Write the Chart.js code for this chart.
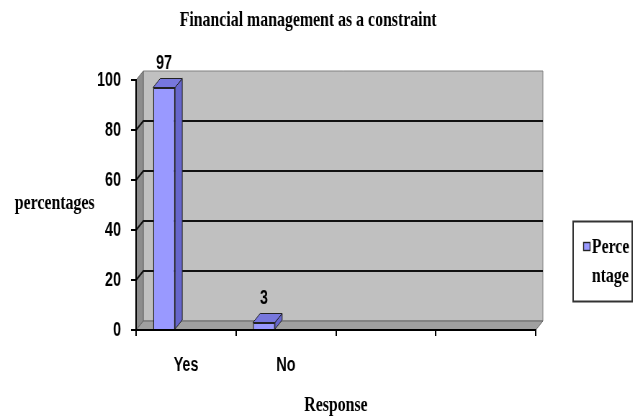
<!DOCTYPE html>
<html>
<head>
<meta charset="utf-8">
<title>Financial management as a constraint</title>
<script src="https://cdn.jsdelivr.net/npm/chart.js@4.4.0/dist/chart.umd.min.js"></script>
<style>
  html, body { margin: 0; padding: 0; background: #fff; overflow: hidden; }
  #frame { width: 638px; height: 416px; overflow: hidden; }
  /* the original picture is squeezed sideways, so draw wide and squeeze */
  #wrap { width: 886px; height: 416px; transform: scaleX(0.72); transform-origin: 0 0; }
</style>
</head>
<body>
<div id="frame"><div id="wrap"><canvas id="chart" width="886" height="416"></canvas></div></div>
<script>
// chart data
const categories = ['Yes', 'No', '', ''];
const percentage = [97, 3, null, null];
const yTicks = [0, 20, 40, 60, 80, 100];
const seriesName = 'Percentage';
const legendLines = ['Perce', 'ntage'];
const chartTitle = 'Financial management as a constraint';
const yTitle = 'percentages';
const xTitle = 'Response';

const serif = '"Liberation Serif", "Times New Roman", serif';
const sans = '"Liberation Sans Narrow", "Arial Narrow", "Liberation Sans", Arial, sans-serif';

// 3d look (depth of walls and bars)
const dx = 10, dy = -9;

function poly(ctx, pts, fill, stroke) {
  ctx.beginPath();
  ctx.moveTo(pts[0][0], pts[0][1]);
  for (let i = 1; i < pts.length; i++) ctx.lineTo(pts[i][0], pts[i][1]);
  ctx.closePath();
  if (fill) { ctx.fillStyle = fill; ctx.fill(); }
  if (stroke) { ctx.strokeStyle = stroke; ctx.lineWidth = 1; ctx.stroke(); }
}

// walls, floor and gridlines behind the bars
const walls = {
  id: 'walls',
  beforeDraw(chart) {
    const ctx = chart.ctx;
    const { left, right, top, bottom } = chart.chartArea;
    const ys = chart.scales.y;
    ctx.save();
    poly(ctx, [[left + dx, top + dy], [right + dx, top + dy], [right + dx, bottom + dy], [left + dx, bottom + dy]], '#c0c0c0', '#808080');
    poly(ctx, [[left, top], [left + dx, top + dy], [left + dx, bottom + dy], [left, bottom]], '#8c8c8c', '#666');
    poly(ctx, [[left, bottom], [left + dx, bottom + dy], [right + dx, bottom + dy], [right, bottom]], '#a0a0a0', '#666');
    ctx.strokeStyle = '#111';
    ctx.lineWidth = 2;
    yTicks.forEach(v => {
      if (v === 0 || v === 100) return;
      const py = ys.getPixelForValue(v);
      ctx.beginPath();
      ctx.moveTo(left, py);
      ctx.lineTo(left + dx, py + dy);
      ctx.lineTo(right + dx, py + dy);
      ctx.stroke();
    });
    ctx.restore();
  }
};

// bar tops, sides and value labels
const bars3d = {
  id: 'bars3d',
  beforeDatasetsDraw(chart) {
    const xs = chart.scales.x;
    const shift = -0.22 * (xs.width / categories.length);
    chart.ctx.save();
    chart.ctx.translate(shift, 0);
  },
  afterDatasetsDraw(chart) {
    const ctx = chart.ctx;
    const meta = chart.getDatasetMeta(0);
    meta.data.forEach((bar, i) => {
      if (percentage[i] == null) return;
      const { x, y, width, base } = bar.getProps(['x', 'y', 'width', 'base'], true);
      const l = x - width / 2, r = x + width / 2;
      poly(ctx, [[r, y], [r + dx, y + dy], [r + dx, base + dy], [r, base]], '#6666cc', '#222');
      poly(ctx, [[l, y], [l + dx, y + dy], [r + dx, y + dy], [r, y]], '#7777dd', '#222');
      ctx.fillStyle = '#000';
      ctx.font = 'bold 20px ' + sans;
      ctx.textAlign = 'center';
      ctx.textBaseline = 'alphabetic';
      ctx.fillText(String(percentage[i]), x, y + dy - 10);
    });
    ctx.restore();
  }
};

// title, horizontal y title and boxed legend
const extras = {
  id: 'extras',
  afterDraw(chart) {
    const ctx = chart.ctx;
    ctx.save();
    ctx.fillStyle = '#000';
    ctx.font = 'bold 22px ' + serif;
    ctx.textAlign = 'center';
    ctx.textBaseline = 'alphabetic';
    ctx.fillText(chartTitle, 428, 26);
    ctx.fillText(yTitle, 76, 209);

    // legend
    ctx.strokeStyle = '#333';
    ctx.lineWidth = 2;
    ctx.strokeRect(796, 221.5, 82, 80);
    ctx.fillStyle = '#9999ff';
    ctx.fillRect(810, 242, 10, 9);
    ctx.lineWidth = 1.4;
    ctx.strokeStyle = '#222';
    ctx.strokeRect(810.5, 242.5, 9, 8);
    ctx.fillStyle = '#000';
    ctx.textAlign = 'left';
    ctx.fillText(legendLines[0], 822, 253);
    ctx.fillText(legendLines[1], 822, 282);
    ctx.restore();
  }
};

const ctx = document.getElementById('chart').getContext('2d');
const chart = new Chart(ctx, {
  type: 'bar',
  data: {
    labels: categories,
    datasets: [{
      label: seriesName,
      data: percentage,
      backgroundColor: '#9999ff',
      borderColor: '#222',
      borderWidth: 1.4,
      barPercentage: 0.22,
      categoryPercentage: 1
    }]
  },
  options: {
    responsive: false,
    animation: false,
    layout: { padding: { left: 0, right: 142, top: 80, bottom: 0 } },
    plugins: {
      legend: { display: false },
      tooltip: { enabled: false }
    },
    scales: {
      x: {
        grid: { display: true, drawOnChartArea: false, color: '#000', lineWidth: 2, tickLength: 6, offset: true },
        border: { display: true, color: '#000', width: 2 },
        ticks: { color: '#000', padding: 17, font: { family: sans, size: 20, weight: 'bold' } },
        title: {
          display: true,
          text: xTitle,
          color: '#000',
          font: { family: serif, size: 22, weight: 'bold', lineHeight: 1 },
          padding: { top: 0, bottom: 0 }
        },
        afterFit(scale) { scale.height = 86; }
      },
      y: {
        min: 0,
        max: 100,
        grid: { display: true, drawOnChartArea: false, color: '#000', lineWidth: 2, tickLength: 7 },
        border: { display: true, color: '#000', width: 2 },
        afterBuildTicks(scale) { scale.ticks = yTicks.map(v => ({ value: v })); },
        ticks: { color: '#000', padding: 14, font: { family: sans, size: 20, weight: 'bold' } },
        afterFit(scale) { scale.width = 189; }
      }
    }
  },
  plugins: [walls, bars3d, extras]
});
</script>
</body>
</html>
